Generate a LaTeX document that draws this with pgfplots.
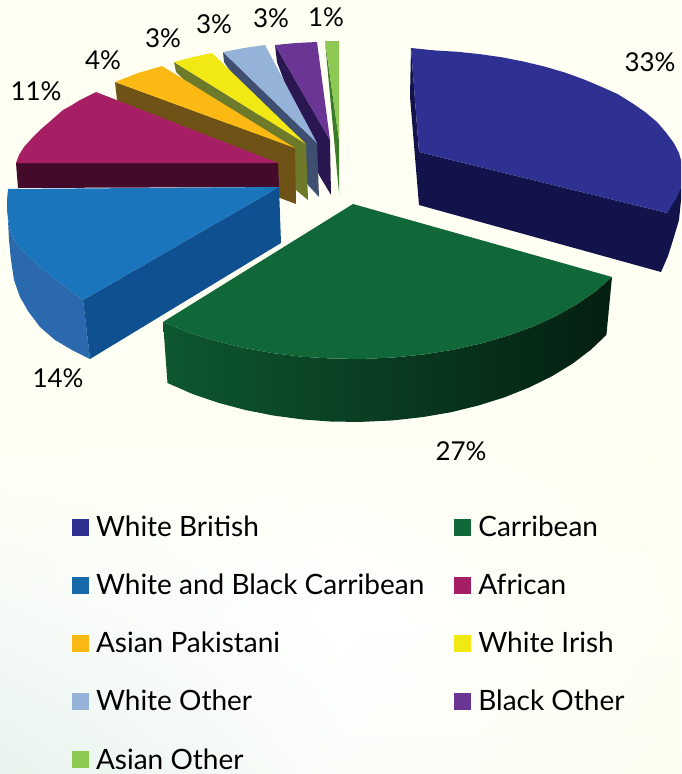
\documentclass[border=0pt]{standalone}
\usepackage{pgfplots}
\pgfplotsset{compat=1.18}
\usetikzlibrary{shadings}
\usepackage{fontspec}
\setmainfont{Lato}

% slice colours: top face, then side face
\definecolor{britTop}{HTML}{2E3192}
\definecolor{britSide}{HTML}{12134A}
\definecolor{caribTop}{HTML}{106738}
\definecolor{wbcTop}{HTML}{1A75BC}
\definecolor{wbcOuter}{HTML}{2A69AD}
\definecolor{wbcSide}{HTML}{0F5190}
\definecolor{afrTop}{HTML}{A61E63}
\definecolor{afrSide}{HTML}{430A2B}
\definecolor{pakTop}{HTML}{FDB913}
\definecolor{pakSide}{HTML}{6F5216}
\definecolor{irishTop}{HTML}{F2E814}
\definecolor{irishSide}{HTML}{6C7A2A}
\definecolor{wotherTop}{HTML}{95B2D9}
\definecolor{wotherSide}{HTML}{3F4F72}
\definecolor{botherTop}{HTML}{6A3594}
\definecolor{botherSide}{HTML}{2A1650}
\definecolor{aotherTop}{HTML}{8DC853}
\definecolor{aotherSide}{HTML}{3C7A2C}
% paper tints
\definecolor{paperA}{HTML}{FFFFF4}
\definecolor{paperB}{HTML}{FFFFF6}
\definecolor{paperC}{HTML}{FFFFF2}
\definecolor{paperD}{HTML}{F5FAF6}
\definecolor{paperE}{HTML}{FFFFFF}
\definecolor{paperF}{HTML}{FEFFF3}
\definecolor{paperG}{HTML}{E8F3EC}
\definecolor{paperH}{HTML}{FBFDF9}
\definecolor{paperI}{HTML}{FBFDF0}

\pgfplotsset{
  slice/.style={draw=none, no markers, forget plot},
  swatch/.style={legend image code/.code={\fill[##1, draw=none] (0pt,-8.5pt) rectangle (17pt,8.5pt);}},
}

\begin{document}
\begin{tikzpicture}
\begin{axis}[
  hide axis, scale only axis, width=681pt, height=774pt,
  xmin=0, xmax=681, ymin=0, ymax=774, y dir=reverse,
  legend columns=2, legend cell align=left,
  legend style={at={(axis cs:72,516)}, anchor=north west, draw=none, fill=none,
    inner sep=0pt, outer sep=0pt, row sep=36pt,
    nodes={inner sep=0pt, font=\fontsize{28}{28}\selectfont},
    /tikz/every odd column/.append style={column sep=7pt},
    /tikz/every even column/.append style={column sep=30pt}},
]
% paper tint
\fill[paperA] (axis cs:0,0) rectangle (axis cs:681,451);
\shade[upper left=paperA, upper right=paperB, lower left=paperD, lower right=paperE]
  (axis cs:0,620) rectangle (axis cs:341,450);
\shade[upper left=paperB, upper right=paperC, lower left=paperE, lower right=paperF]
  (axis cs:340,620) rectangle (axis cs:681,450);
\shade[upper left=paperD, upper right=paperE, lower left=paperG, lower right=paperH]
  (axis cs:0,774) rectangle (axis cs:341,619);
\shade[upper left=paperE, upper right=paperF, lower left=paperH, lower right=paperI]
  (axis cs:340,774) rectangle (axis cs:681,619);

% legend keys, listed row by row
\addlegendimage{swatch, fill=britTop}\addlegendentry{White British}
\addlegendimage{swatch, fill=caribTop}\addlegendentry{Carribean}
\addlegendimage{swatch, fill=wbcTop!90!black}\addlegendentry{White and Black Carribean}
\addlegendimage{swatch, fill=afrTop}\addlegendentry{African}
\addlegendimage{swatch, fill=pakTop}\addlegendentry{Asian Pakistani}
\addlegendimage{swatch, fill=irishTop}\addlegendentry{White Irish}
\addlegendimage{swatch, fill=wotherTop}\addlegendentry{White Other}
\addlegendimage{swatch, fill=botherTop}\addlegendentry{Black Other}
\addlegendimage{swatch, fill=aotherTop}\addlegendentry{Asian Other}

% slices painted back to front
% Asian Other, 1%
\addplot[slice, fill=aotherSide] coordinates {(325,41)(339,140)(339,193)} -- cycle;
\addplot[slice, fill=aotherTop] coordinates {(325,41)(339,41)(339,140)} -- cycle;
% Black Other, 3%
\addplot[slice, fill=botherSide] coordinates {(275,45)(330,140)(331,195)(319,175)(277,62)} -- cycle;
\addplot[slice, fill=botherTop] coordinates {(275,45)(296,43)(317,42)(330,140)} -- cycle;
% White Other, 3%
\addplot[slice, fill=wotherSide] coordinates {(223,52)(317,143)(319,197)(308,185)(224,62)} -- cycle;
\addplot[slice, fill=wotherTop] coordinates {(223,52)(244,48)(265,45)(317,143)} -- cycle;
% White Irish, 3%
\addplot[slice, fill=irishSide] coordinates {(174,62)(306,144)(308,200)(296,190)(176,72)} -- cycle;
\addplot[slice, fill=irishTop] coordinates {(174,62)(193,57)(212,53)(306,144)} -- cycle;
% Asian Pakistani, 4%
\addplot[slice, fill=pakSide] coordinates {(115,82)(295,148)(296,204)(280,198)(117,100)} -- cycle;
\addplot[slice, fill=pakTop] coordinates {(115,82)(138,73)(162,66)(295,148)} -- cycle;
% African, 11%
\addplot[slice, fill=afrSide] coordinates {(16,163)(278,163)(279,187)(18,188)} -- cycle;
\addplot[slice, fill=afrTop] coordinates {(16,163)(19,155)(24,147)(33,137)(40,130)(47,124)(55,117)(63,110)(72,105)(80,100)(96,92)(278,163)} -- cycle;
% White and Black Carribean, 14%
\addplot[slice, fill=wbcOuter] coordinates {(7,200)(7,210)(9,225)(14,240)(22,250)(40,267)(60,283)(83,300)(90,359)(72,350)(55,340)(40,327)(28,311)(20,297)(14,280)(11,260)(9,240)} -- cycle;
\addplot[slice, fill=wbcSide] coordinates {(83,300)(279,187)(281,243)(90,359)} -- cycle;
\addplot[slice, fill=wbcTop] coordinates {(8,189)(279,187)(83,300)(60,283)(40,267)(22,250)(14,240)(9,225)(7,210)(7,200)} -- cycle;
% Carribean, 27%
\addplot[slice, left color=caribTop!85!black, middle color=caribTop!40!black, right color=caribTop!30!black]
  coordinates {(163,322)(188.8,332.5)(215.3,340.9)(243,347.7)(272,353)(301.9,356.7)(332.5,358.6)(363.3,358.9)(393.8,357.5)(424,354.4)(453.4,349.7)(481.7,343.3)(508.6,335.4)(533.9,326.2)(557,315.5)(577.9,303.6)(596.4,290.7)(612,277)
    (606.4,334.9)(590.9,349.7)(572.8,363.5)(552.5,375.9)(529.8,387.2)(505.1,397.1)(478.7,405.4)(451.2,412.2)(422.5,417.1)(392.9,420.4)(363,421.8)(332.9,421.7)(303.1,419.5)(273.8,415.6)(245.4,410)(218.4,402.8)(192.6,394)(167.5,383)} -- cycle;
\addplot[slice, fill=caribTop] coordinates {(353,204)(612,277)(596.4,290.7)(577.9,303.6)(557,315.5)(533.9,326.2)(508.6,335.4)(481.7,343.3)(453.4,349.7)(424,354.4)(393.8,357.5)(363.3,358.9)(332.5,358.6)(301.9,356.7)(272,353)(243,347.7)(215.3,340.9)(188.8,332.5)(163,322)} -- cycle;
% White British, 33%
\addplot[slice, fill=britSide] coordinates {(411,48)(410,97)(419,205)(661,272)(668,256)(673,240)(679,220)(681,200)(681,187)(667,213)(419,152)} -- cycle;
\addplot[slice, fill=britTop] coordinates {(411,48)(434.3,50.4)(457.6,51.8)(480.4,54.2)(502.6,57.4)(524.3,61.7)(545,66.7)(564.8,72.5)(583.3,79.2)(601,86.6)(617.5,94)(632,103)(645,112)(657,122)(666,132.5)(673.8,143)(679,153)(682,164)(683,175)(681,187)(677,197)(667,213)(419,152)} -- cycle;

% percentages
\begin{scope}[every node/.style={font=\fontsize{26}{26}\selectfont, inner sep=0pt}]
\node at (axis cs:650,62) {33\%};
\node at (axis cs:461,451) {27\%};
\node at (axis cs:58,378) {14\%};
\node at (axis cs:36,91) {11\%};
\node at (axis cs:103,60) {4\%};
\node at (axis cs:163,38) {3\%};
\node at (axis cs:214,24) {3\%};
\node at (axis cs:271,18) {3\%};
\node at (axis cs:326,17) {1\%};
\end{scope}
\end{axis}
\end{tikzpicture}
\end{document}
